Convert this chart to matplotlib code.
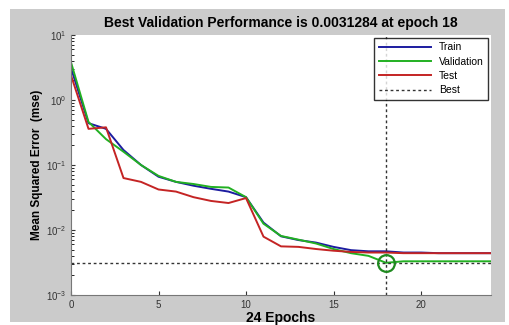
import matplotlib
matplotlib.use("Agg")
import matplotlib.pyplot as plt
from matplotlib.patches import Rectangle

plt.rcParams['font.family'] = ['Liberation Sans', 'DejaVu Sans']

# values (mse per epoch)
epochs = list(range(25))
train = [3.1, 0.44, 0.36, 0.17, 0.10, 0.066, 0.055, 0.048, 0.043, 0.039, 0.032,
         0.013, 0.0080, 0.0070, 0.0064, 0.0055, 0.0049, 0.0047, 0.0047,
         0.0045, 0.0045, 0.0044, 0.0044, 0.0044, 0.0044]
validation = [3.8, 0.46, 0.25, 0.16, 0.10, 0.068, 0.055, 0.051, 0.046, 0.045, 0.032,
              0.0125, 0.0081, 0.0071, 0.0062, 0.0051, 0.0044, 0.0040, 0.0031284,
              0.0033, 0.0033, 0.0033, 0.0033, 0.0033, 0.0033]
test = [2.4, 0.36, 0.38, 0.063, 0.055, 0.042, 0.039, 0.032, 0.028, 0.026, 0.031,
        0.0079, 0.0056, 0.0055, 0.0051, 0.0048, 0.0046, 0.0045, 0.0045,
        0.0044, 0.0044, 0.0044, 0.0044, 0.0044, 0.0044]
best_epoch = 18
best_perf = 0.0031284

fig = plt.figure(figsize=(5.09, 3.25), dpi=100, facecolor='white')
# grey MATLAB-style figure panel
fig.patches.append(Rectangle((10 / 509, 3 / 325), 495 / 509, 313 / 325,
                             transform=fig.transFigure, facecolor='#cbcbcb',
                             edgecolor='none', zorder=-10))
ax = fig.add_axes([71 / 509, 30 / 325, 420 / 509, 260 / 325])
ax.set_facecolor('white')

ax.plot(epochs, train, color='#1c1ca0', lw=1.4, label='Train')
ax.plot(epochs, validation, color='#22b022', lw=1.4, label='Validation')
ax.plot(epochs, test, color='#c42424', lw=1.4, label='Test')
ax.axhline(best_perf, color='#333333', lw=1.0, ls=(0, (2, 2)), label='Best')
ax.axvline(best_epoch, color='#333333', lw=1.0, ls=(0, (2, 2)))
ax.plot([best_epoch], [best_perf], 'o', ms=12, mfc='none', mec='#1f8a1f', mew=1.6)

ax.set_yscale('log')
ax.set_ylim(1e-3, 10)
ax.set_xlim(0, 24)
ax.set_xticks([0, 5, 10, 15, 20])
ax.tick_params(direction='in', labelsize=7, colors='#333333', length=3)
ax.tick_params(which='minor', direction='in', length=2)
for s in ['top', 'right']:
    ax.spines[s].set_visible(False)
for s in ['left', 'bottom']:
    ax.spines[s].set_color('#777777')

ax.set_title('Best Validation Performance is 0.0031284 at epoch 18',
             fontsize=10, fontweight='bold', pad=6)
ax.set_xlabel('24 Epochs', fontsize=10, fontweight='bold', labelpad=1)
ax.set_ylabel('Mean Squared Error  (mse)', fontsize=8.5, fontweight='bold', labelpad=2)

leg = ax.legend(loc='upper right', fontsize=7.5, frameon=True, fancybox=False,
                borderaxespad=0.3, handlelength=5, labelspacing=0.42)
leg.get_frame().set_edgecolor('black')
leg.get_frame().set_linewidth(1.0)

fig.savefig('out.png', dpi=100, facecolor='white')
